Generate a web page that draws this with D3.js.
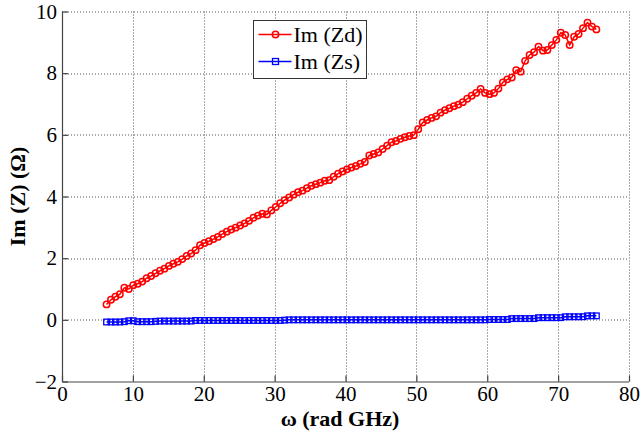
<!DOCTYPE html>
<html>
<head>
<meta charset="utf-8">
<script src="https://cdn.jsdelivr.net/npm/d3@7"></script>
<style>
  html, body { margin: 0; padding: 0; background: #fff; }
  svg { display: block; }
</style>
</head>
<body>
<svg id="chart" width="642" height="434"></svg>
<script>
// Sweep frequencies (GHz); the x axis shows angular frequency ω = 2πf
const freqGHz = [
  1.0, 1.1, 1.2, 1.3, 1.4, 1.5, 1.6, 1.7, 1.8, 1.9,
  2.0, 2.1, 2.2, 2.3, 2.4, 2.5, 2.6, 2.7, 2.8, 2.9,
  3.0, 3.1, 3.2, 3.3, 3.4, 3.5, 3.6, 3.7, 3.8, 3.9,
  4.0, 4.1, 4.2, 4.3, 4.4, 4.5, 4.6, 4.7, 4.8, 4.9,
  5.0, 5.1, 5.2, 5.3, 5.4, 5.5, 5.6, 5.7, 5.8, 5.9,
  6.0, 6.1, 6.2, 6.3, 6.4, 6.5, 6.6, 6.7, 6.8, 6.9,
  7.0, 7.1, 7.2, 7.3, 7.4, 7.5, 7.6, 7.7, 7.8, 7.9,
  8.0, 8.1, 8.2, 8.3, 8.4, 8.5, 8.6, 8.7, 8.8, 8.9,
  9.0, 9.1, 9.2, 9.3, 9.4, 9.5, 9.6, 9.7, 9.8, 9.9,
  10.0, 10.1, 10.2, 10.3, 10.4, 10.5, 10.6, 10.7, 10.8, 10.9,
  11.0, 11.1, 11.2, 11.3, 11.4, 11.5, 11.6, 11.7, 11.8, 11.9,
  12.0
];

// Im(Zd) in ohms, one value per frequency
const imZd = [
  0.50, 0.65, 0.75, 0.83, 1.04, 1.00, 1.12, 1.17, 1.24, 1.35,
  1.42, 1.51, 1.59, 1.66, 1.75, 1.82, 1.88, 1.97, 2.07, 2.15,
  2.26, 2.42, 2.49, 2.55, 2.62, 2.69, 2.78, 2.86, 2.93, 2.99,
  3.06, 3.13, 3.21, 3.31, 3.38, 3.44, 3.42, 3.55, 3.66, 3.78,
  3.88, 3.97, 4.06, 4.14, 4.19, 4.27, 4.35, 4.40, 4.45, 4.51,
  4.53, 4.64, 4.74, 4.81, 4.88, 4.94, 4.99, 5.06, 5.12, 5.33,
  5.38, 5.43, 5.54, 5.65, 5.76, 5.80, 5.87, 5.92, 5.96, 5.99,
  6.18, 6.40, 6.48, 6.55, 6.60, 6.72, 6.80, 6.86, 6.93, 6.98,
  7.06, 7.17, 7.27, 7.36, 7.49, 7.36, 7.32, 7.36, 7.50, 7.70,
  7.80, 7.86, 8.10, 8.05, 8.40, 8.59, 8.68, 8.86, 8.73, 8.75,
  8.91, 9.08, 9.31, 9.24, 8.91, 9.18, 9.27, 9.46, 9.64, 9.51,
  9.42
];

// Im(Zs) in ohms, one value per frequency
const imZs = [
  -0.07, -0.07, -0.07, -0.07, -0.06, -0.03, -0.03, -0.06, -0.06, -0.06,
  -0.06, -0.05, -0.04, -0.04, -0.04, -0.04, -0.04, -0.04, -0.04, -0.04,
  -0.02, -0.02, -0.02, -0.02, -0.02, -0.02, -0.02, -0.02, -0.02, -0.02,
  -0.02, -0.02, -0.02, -0.02, -0.02, -0.02, -0.02, -0.02, -0.02, -0.02,
  -0.01, 0.00, 0.00, 0.00, 0.00, 0.00, 0.00, 0.00, 0.00, 0.00,
  0.00, 0.00, 0.00, 0.00, 0.00, 0.00, 0.00, 0.00, 0.00, 0.00,
  0.00, 0.00, 0.00, 0.00, 0.00, 0.00, 0.00, 0.00, 0.00, 0.00,
  0.00, 0.00, 0.00, 0.00, 0.00, 0.00, 0.00, 0.00, 0.00, 0.00,
  0.00, 0.00, 0.00, 0.00, 0.00, 0.00, 0.01, 0.01, 0.01, 0.01,
  0.01, 0.04, 0.04, 0.04, 0.04, 0.04, 0.04, 0.07, 0.07, 0.07,
  0.07, 0.07, 0.07, 0.10, 0.10, 0.10, 0.10, 0.10, 0.13, 0.13,
  0.13
];

const xTicks = [0, 10, 20, 30, 40, 50, 60, 70, 80];
const yTicks = [-2, 0, 2, 4, 6, 8, 10];
const seriesNames = ["Im (Zd)", "Im (Zs)"];

const SERIF = '"Liberation Serif", Tinos, "Times New Roman", "DejaVu Serif", serif';

const omega = freqGHz.map(f => 2 * Math.PI * f);
const red = omega.map((w, i) => ({ x: w, y: imZd[i] }));
const blue = omega.map((w, i) => ({ x: w, y: imZs[i] }));

const svg = d3.select("#chart");
const margin = { left: 62, top: 11.5, right: 13, bottom: 52.5 };
const W = 642 - margin.left - margin.right;
const H = 434 - margin.top - margin.bottom;

const x = d3.scaleLinear().domain([0, 80]).range([0, W]);
const y = d3.scaleLinear().domain([-2, 10]).range([H, 0]);

const g = svg.append("g").attr("transform", `translate(${margin.left},${margin.top})`);

// dotted grid
const grid = g.append("g").attr("class", "grid");
grid.selectAll("line.v").data(xTicks.filter(t => t > 0)).join("line")
  .attr("x1", d => Math.round(x(d)) + 0.5).attr("x2", d => Math.round(x(d)) + 0.5)
  .attr("y1", 0).attr("y2", H)
  .attr("stroke", "#555").attr("stroke-width", 1).attr("stroke-dasharray", "1,2");
grid.selectAll("line.h").data(yTicks.filter(t => t > -2)).join("line")
  .attr("x1", 0).attr("x2", W)
  .attr("y1", d => Math.round(y(d)) + 0.5).attr("y2", d => Math.round(y(d)) + 0.5)
  .attr("stroke", "#555").attr("stroke-width", 1).attr("stroke-dasharray", "1,2");

// axes with inward ticks
const xAxis = d3.axisBottom(x).tickValues(xTicks).tickSize(-6).tickPadding(5).tickFormat(d3.format("d"));
const yAxis = d3.axisLeft(y).tickValues(yTicks).tickSize(-6).tickPadding(5).tickFormat(d3.format("d"));

const gx = g.append("g").attr("transform", `translate(0,${H})`).call(xAxis);
const gy = g.append("g").call(yAxis);
[gx, gy].forEach(a => {
  a.attr("font-family", null).attr("font-size", null);
  a.select(".domain").attr("stroke", "#444").attr("stroke-width", 1.2);
  a.selectAll(".tick line").attr("stroke", "#444").attr("stroke-width", 1.2);
  a.selectAll(".tick text")
    .style("font-family", SERIF).style("font-size", "21px").attr("fill", "#000");
});
gx.select(".domain").attr("d", `M0.5,0.5H${W}`);
gy.select(".domain").attr("d", `M0.5,${H}V0`);

// series
const line = d3.line().x(d => x(d.x)).y(d => y(d.y));

g.append("path").datum(red).attr("fill", "none").attr("stroke", "#ff0000").attr("stroke-width", 1.5).attr("d", line);
g.append("g").selectAll("circle").data(red).join("circle")
  .attr("cx", d => x(d.x)).attr("cy", d => y(d.y)).attr("r", 3.2)
  .attr("fill", "none").attr("stroke", "#ff0000").attr("stroke-width", 1.5);

g.append("path").datum(blue).attr("fill", "none").attr("stroke", "#0000ff").attr("stroke-width", 1.5).attr("d", line);
g.append("g").selectAll("rect").data(blue).join("rect")
  .attr("x", d => x(d.x) - 2.8).attr("y", d => y(d.y) - 2.8).attr("width", 5.6).attr("height", 5.6)
  .attr("fill", "none").attr("stroke", "#0000ff").attr("stroke-width", 1.3);

// axis titles
svg.append("text")
  .attr("x", 340).attr("y", 426)
  .attr("text-anchor", "middle")
  .style("font-family", SERIF).style("font-weight", "bold").style("font-size", "22px")
  .text("ω (rad GHz)");
svg.append("text")
  .attr("transform", `translate(25,${margin.top + y(4)}) rotate(-90)`)
  .attr("text-anchor", "middle")
  .style("font-family", SERIF).style("font-weight", "bold").style("font-size", "22px")
  .text("Im (Z) (Ω)");

// legend
const lg = svg.append("g").attr("transform", "translate(253.5,20.5)");
lg.append("rect").attr("width", 113).attr("height", 58).attr("fill", "#fff").attr("stroke", "#333").attr("stroke-width", 1);
const items = [
  { name: seriesNames[0], color: "#ff0000", shape: "circle" },
  { name: seriesNames[1], color: "#0000ff", shape: "square" }
];
items.forEach((it, i) => {
  const cy = 14 + i * 27;
  lg.append("line").attr("x1", 5).attr("x2", 38).attr("y1", cy).attr("y2", cy)
    .attr("stroke", it.color).attr("stroke-width", 1.5);
  if (it.shape === "circle") {
    lg.append("circle").attr("cx", 22).attr("cy", cy).attr("r", 3.2)
      .attr("fill", "none").attr("stroke", it.color).attr("stroke-width", 1.5);
  } else {
    lg.append("rect").attr("x", 19).attr("y", cy - 3).attr("width", 6).attr("height", 6)
      .attr("fill", "none").attr("stroke", it.color).attr("stroke-width", 1.3);
  }
  lg.append("text").attr("x", 40).attr("y", cy).attr("dy", "0.35em")
    .style("font-family", SERIF).style("font-size", "22px").text(it.name);
});
</script>
</body>
</html>
